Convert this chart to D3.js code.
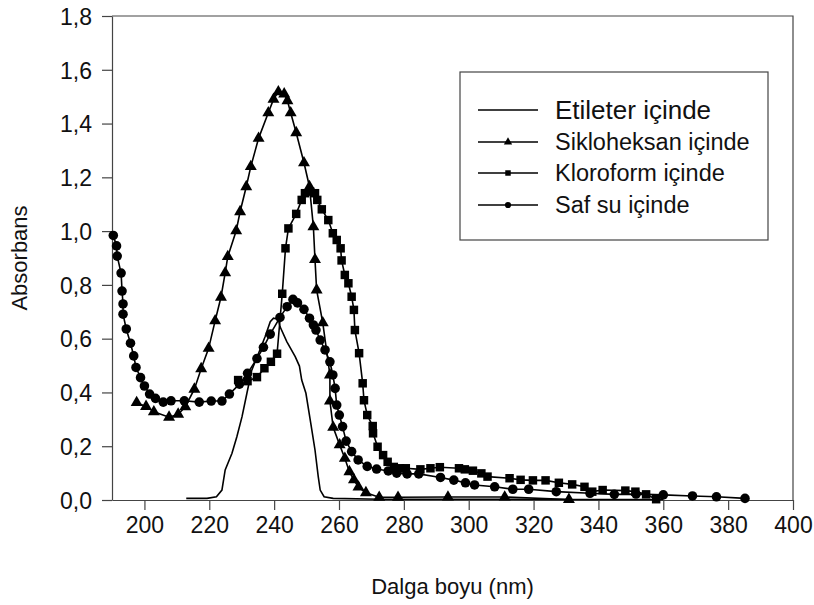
<!DOCTYPE html>
<meta charset="utf-8">
<style>
body { margin: 0; background: #fff; }
text { font-family: "Liberation Sans", Arial, sans-serif; fill: #111; }
</style>
<svg width="814" height="605"></svg>
<script src="https://d3js.org/d3.v7.min.js"></script>
<script>

// wavelength (nm) / absorbance pairs
var etileterX = [212.9, 219.3, 222.2, 223.9, 224.9, 227.0, 228.5, 230.1, 231.6, 233.1, 235.2, 237.2, 238.8, 239.8, 241.3, 241.8, 243.9, 246.5, 247.8, 248.5, 249.8, 251.3, 252.6, 253.6, 254.2, 255.4, 258.2, 272.6, 300, 330, 360];
var etileterY = [0.006, 0.006, 0.012, 0.037, 0.112, 0.174, 0.235, 0.310, 0.397, 0.483, 0.546, 0.607, 0.663, 0.676, 0.672, 0.645, 0.589, 0.533, 0.498, 0.446, 0.397, 0.285, 0.186, 0.087, 0.037, 0.012, 0.006, 0.003, 0.003, 0.002, 0.002];

var siklohX = [197.6, 200.5, 202.9, 207.6, 210.4, 212.6, 215.4, 217.5, 219.8, 221.8, 223.6, 224.9, 225.7, 228.3, 229.5, 231.4, 232.8, 235.2, 238.2, 239.8, 241.3, 243.1, 244.1, 245.1, 246.8, 249.2, 250.9, 252.1, 252.6, 253.1, 255.0, 257.2, 257.2, 258.2, 260.2, 261.8, 263.2, 264.6, 266.0, 268.3, 272.4, 278.2, 293.6, 311.1, 330.9];
var siklohY = [0.362, 0.348, 0.328, 0.308, 0.319, 0.347, 0.412, 0.488, 0.564, 0.666, 0.754, 0.845, 0.905, 1.001, 1.072, 1.165, 1.240, 1.345, 1.440, 1.490, 1.518, 1.510, 1.485, 1.440, 1.366, 1.254, 1.165, 1.016, 0.894, 0.781, 0.659, 0.465, 0.368, 0.270, 0.205, 0.155, 0.105, 0.075, 0.048, 0.027, 0.010, 0.010, 0.011, 0.011, 0.002];

var kloroX = [228.9, 231.8, 234.7, 237.0, 239.0, 240.9, 242.5, 243.5, 244.4, 246.8, 248.5, 249.5, 251.1, 252.6, 253.3, 254.7, 256.7, 258.1, 259.3, 260.5, 260.8, 261.8, 262.9, 263.9, 264.6, 264.9, 266.2, 267.3, 267.7, 268.7, 270.4, 270.5, 271.9, 273.6, 275.0, 276.9, 278.8, 280.6, 285.1, 288.2, 291.1, 297.0, 298.8, 301.3, 303.9, 305.8, 312.6, 316.0, 319.8, 323.7, 327.8, 331.9, 335.7, 338.1, 341.3, 348.3, 351.4, 354.7, 357.8];
var kloroY = [0.446, 0.442, 0.457, 0.490, 0.514, 0.544, 0.767, 0.936, 1.010, 1.064, 1.116, 1.141, 1.147, 1.141, 1.116, 1.081, 1.041, 0.992, 0.967, 0.936, 0.891, 0.837, 0.806, 0.756, 0.707, 0.632, 0.546, 0.434, 0.371, 0.316, 0.275, 0.248, 0.198, 0.167, 0.142, 0.123, 0.118, 0.118, 0.114, 0.118, 0.122, 0.118, 0.114, 0.109, 0.099, 0.087, 0.081, 0.075, 0.073, 0.073, 0.064, 0.058, 0.049, 0.031, 0.037, 0.035, 0.031, 0.021, 0.003];

var safsuX = [190.4, 191.4, 191.6, 192.8, 193.1, 193.4, 193.4, 194.4, 195.7, 196.7, 197.4, 198.8, 200.0, 201.6, 203.4, 205.8, 208.2, 212.3, 216.9, 220.6, 223.9, 226.2, 229.3, 231.8, 234.7, 236.7, 238.8, 241.8, 244.0, 245.8, 247.2, 249.2, 250.9, 252.1, 252.9, 254.2, 255.7, 257.2, 258.1, 258.8, 259.3, 260.1, 261.1, 262.2, 263.9, 265.9, 268.7, 271.6, 275.2, 277.8, 281.0, 284.6, 291.3, 295.4, 299.0, 301.8, 308.0, 313.6, 318.5, 327.0, 337.4, 344.9, 351.6, 360.0, 369.0, 376.4, 385.2];
var safsuY = [0.984, 0.945, 0.907, 0.844, 0.777, 0.729, 0.691, 0.636, 0.583, 0.536, 0.493, 0.455, 0.424, 0.394, 0.378, 0.364, 0.369, 0.369, 0.364, 0.368, 0.368, 0.394, 0.431, 0.471, 0.526, 0.568, 0.617, 0.679, 0.719, 0.746, 0.733, 0.709, 0.676, 0.651, 0.632, 0.595, 0.558, 0.514, 0.465, 0.415, 0.353, 0.316, 0.273, 0.219, 0.180, 0.149, 0.125, 0.115, 0.108, 0.100, 0.097, 0.097, 0.084, 0.074, 0.064, 0.056, 0.049, 0.040, 0.040, 0.031, 0.025, 0.021, 0.022, 0.019, 0.015, 0.012, 0.006];

var seriesNames = ["Etileter içinde", "Sikloheksan içinde", "Kloroform içinde", "Saf su içinde"];
var xTicks = [200, 220, 240, 260, 280, 300, 320, 340, 360, 380, 400];
var yTicks = [0, 0.2, 0.4, 0.6, 0.8, 1.0, 1.2, 1.4, 1.6, 1.8];

var svg = d3.select("svg"),
    pLeft = 112, pRight = 793, pTop = 16, pBottom = 500;

var x = d3.scaleLinear().domain([190, 400]).range([pLeft, pRight]);
var y = d3.scaleLinear().domain([0, 1.8]).range([pBottom, pTop]);

function zip(xs, ys) { return xs.map(function(v, i) { return [v, ys[i]]; }); }

var series = [
  {name: seriesNames[0], pts: zip(etileterX, etileterY), sym: null},
  {name: seriesNames[1], pts: zip(siklohX, siklohY), sym: d3.symbolTriangle},
  {name: seriesNames[2], pts: zip(kloroX, kloroY), sym: d3.symbolSquare},
  {name: seriesNames[3], pts: zip(safsuX, safsuY), sym: d3.symbolCircle}
];
var symSize = {};
symSize[seriesNames[1]] = 62;
symSize[seriesNames[2]] = 72;
symSize[seriesNames[3]] = 72;

var comma = function(d) { return d3.format(".1f")(d).replace(".", ","); };

// frame (top + right)
svg.append("path")
    .attr("d", "M" + pLeft + "," + pTop + "H" + pRight + "V" + pBottom)
    .attr("fill", "none").attr("stroke", "#444").attr("stroke-width", 1.2);

var xAxis = svg.append("g")
    .attr("transform", "translate(0," + pBottom + ")")
    .call(d3.axisBottom(x).tickValues(xTicks).tickSize(10).tickSizeOuter(0).tickPadding(7));
var yAxis = svg.append("g")
    .attr("transform", "translate(" + pLeft + ",0)")
    .call(d3.axisLeft(y).tickValues(yTicks).tickSize(10).tickSizeOuter(0).tickPadding(10).tickFormat(comma));

[xAxis, yAxis].forEach(function(a) {
  a.select(".domain").attr("stroke", "#444").attr("stroke-width", 1.2);
  a.selectAll(".tick line").attr("stroke", "#444").attr("stroke-width", 1.2);
  a.selectAll(".tick text").style("font-size", "23px").attr("fill", "#111");
});
yAxis.selectAll(".tick text").attr("dy", "0.36em");

svg.append("text")
    .attr("x", (pLeft + pRight) / 2).attr("y", 594)
    .attr("text-anchor", "middle").style("font-size", "22px")
    .text("Dalga boyu (nm)");
svg.append("text")
    .attr("transform", "translate(27,258) rotate(-90)")
    .attr("text-anchor", "middle").style("font-size", "22px")
    .text("Absorbans");

var line = d3.line().x(function(d) { return x(d[0]); }).y(function(d) { return y(d[1]); });

var g = svg.append("g");
series.forEach(function(s) {
  g.append("path")
      .attr("d", line(s.pts))
      .attr("fill", "none").attr("stroke", "#000").attr("stroke-width", 1.6);
  if (s.sym) {
    g.selectAll(null).data(s.pts).enter().append("path")
        .attr("transform", function(d) { return "translate(" + x(d[0]) + "," + y(d[1]) + ")"; })
        .attr("d", d3.symbol().type(s.sym).size(symSize[s.name]))
        .attr("fill", "#000");
  }
});

// legend
var lg = svg.append("g");
lg.append("rect")
    .attr("x", 460).attr("y", 72).attr("width", 308).attr("height", 168)
    .attr("fill", "#fff").attr("stroke", "#444").attr("stroke-width", 1.2);
var rowY = [110, 142, 173, 205];
series.forEach(function(s, i) {
  lg.append("line")
      .attr("x1", 478).attr("x2", 538).attr("y1", rowY[i]).attr("y2", rowY[i])
      .attr("stroke", "#000").attr("stroke-width", 1.6);
  if (s.sym) {
    lg.append("path")
        .attr("transform", "translate(508," + rowY[i] + ")")
        .attr("d", d3.symbol().type(s.sym).size(30))
        .attr("fill", "#000");
  }
  lg.append("text")
      .attr("x", 555).attr("y", rowY[i]).attr("dy", "0.36em")
      .style("font-size", i === 0 ? "26px" : "23.5px")
      .text(s.name);
});

</script>
